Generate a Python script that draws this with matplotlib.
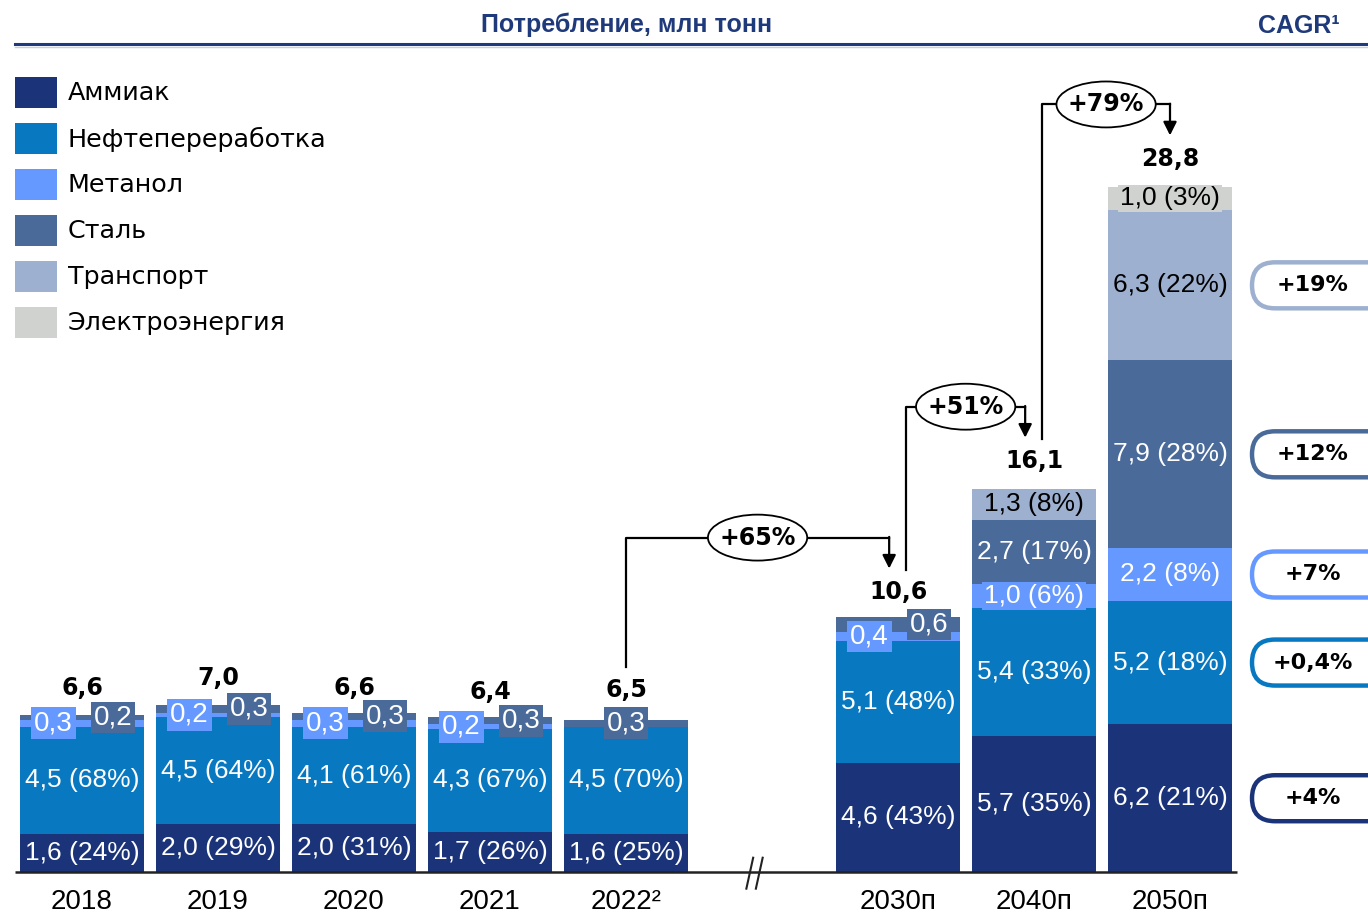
import matplotlib
matplotlib.use("Agg")
import matplotlib.pyplot as plt
from matplotlib.patches import Rectangle, Ellipse, FancyBboxPatch
from matplotlib.transforms import IdentityTransform

# ---- data ----
years = ["2018", "2019", "2020", "2021", "2022²", "2030п", "2040п", "2050п"]
x_pos = [0, 1, 2, 3, 4, 6, 7, 8]
totals = [6.6, 7.0, 6.6, 6.4, 6.5, 10.6, 16.1, 28.8]

categories = ["Аммиак", "Нефтепереработка", "Метанол", "Сталь", "Транспорт", "Электроэнергия"]
ammonia = [1.6, 2.0, 2.0, 1.7, 1.6, 4.6, 5.7, 6.2]
ammonia_pct = [24, 29, 31, 26, 25, 43, 35, 21]
refining = [4.5, 4.5, 4.1, 4.3, 4.5, 5.1, 5.4, 5.2]
refining_pct = [68, 64, 61, 67, 70, 48, 33, 18]
methanol = [0.3, 0.2, 0.3, 0.2, 0.0, 0.4, 1.0, 2.2]
methanol_pct = [None, None, None, None, None, None, 6, 8]
steel = [0.2, 0.3, 0.3, 0.3, 0.3, 0.6, 2.7, 7.9]
steel_pct = [None, None, None, None, None, None, 17, 28]
transport = [0, 0, 0, 0, 0, 0, 1.3, 6.3]
transport_pct = [None, None, None, None, None, None, 8, 22]
power = [0, 0, 0, 0, 0, 0, 0, 1.0]
power_pct = [None, None, None, None, None, None, None, 3]

cagr = ["+4%", "+0,4%", "+7%", "+12%", "+19%", None]

# growth between bars: (from index, to index, label)
growth = [(4, 5, "+65%"), (5, 6, "+51%"), (6, 7, "+79%")]

colors = ["#1b3479", "#0878c0", "#6699ff", "#4a6a9a", "#9db0cf", "#d0d2cf"]
text_colors = ["white", "white", "white", "white", "black", "black"]
navy = "#1f3a7a"

NARROW = ["Liberation Sans", "DejaVu Sans"]
plt.rcParams["font.family"] = ["DejaVu Sans"]


def fmt(v):
    return f"{v:.1f}".replace(".", ",")


W, H = 1368, 914
fig = plt.figure(figsize=(W / 100, H / 100), dpi=100)
ax = fig.add_axes([0, 0, 1, 1])
ax.set_xlim(-82 / 136, (W - 82) / 136)
ax.set_ylim(-(H - 872) / 23.8, 872 / 23.8)
ax.axis("off")

series = [ammonia, refining, methanol, steel, transport, power]
pcts = [ammonia_pct, refining_pct, methanol_pct, steel_pct, transport_pct, power_pct]
bar_w = 0.905

bottoms = [0.0] * len(years)
mids = {}
for ci, (vals, pc) in enumerate(zip(series, pcts)):
    ax.bar(x_pos, vals, bar_w, bottom=bottoms, color=colors[ci], edgecolor="none")
    for i, v in enumerate(vals):
        if v <= 0:
            continue
        mid = bottoms[i] + v / 2
        mids[(ci, i)] = mid
        if pc[i] is None:
            # small values: boxed labels side by side
            dx = 0
            if ci == 2:
                dx = -0.21
            elif ci == 3 and methanol[i] > 0:
                dx = 0.23
            ax.text(x_pos[i] + dx, mid, fmt(v), ha="center", va="center",
                    fontsize=20, color="white", family=NARROW,
                    bbox=dict(boxstyle="square,pad=0.1", fc=colors[ci], ec="none"))
        else:
            ax.text(x_pos[i], mid, f"{fmt(v)} ({pc[i]}%)", ha="center", va="center",
                    fontsize=19, color=text_colors[ci], family=NARROW,
                    bbox=dict(boxstyle="square,pad=0.06", fc=colors[ci], ec="none"))
    bottoms = [b + v for b, v in zip(bottoms, vals)]

# totals and years
for i, t in enumerate(totals):
    ax.text(x_pos[i], t + 1.15, fmt(t), ha="center", va="center",
            fontsize=17, fontweight="bold")
    ax.text(x_pos[i], -1.25, years[i], ha="center", va="center",
            fontsize=20, family=NARROW)

# baseline with break
ax.plot([-0.49, 8.49], [0, 0], color="#222222", lw=1.8, solid_capstyle="butt")
for dx in (-0.09, -0.02):
    ax.plot([5 + dx - 0.025, 5 + dx + 0.025], [-0.7, 0.6], color="#222222", lw=1.5)

# growth arrows
for a, b, lab in growth:
    x0 = x_pos[a] + (0.0 if a == 4 else 0.06)
    x1 = x_pos[b] - (0.0 if b == 7 else 0.065)
    y0 = totals[a] + 2.1
    y1 = totals[b] + 2.15
    lvl = totals[b] + 3.45
    ax.plot([x0, x0, x1], [y0, lvl, lvl], color="black", lw=1.6)
    ax.annotate("", xy=(x1, y1), xytext=(x1, lvl + 0.03),
                arrowprops=dict(arrowstyle="-|>", color="black", lw=1.6,
                                mutation_scale=20, shrinkA=0, shrinkB=0))
    xc = (x0 + x1) / 2
    ax.add_patch(Ellipse((xc, lvl), 0.73, 1.93, fc="white", ec="black", lw=1.3, zorder=3))
    ax.text(xc, lvl, lab, ha="center", va="center", fontsize=17,
            fontweight="bold", zorder=4)

# CAGR pills aligned with 2050 segments
for ci, c in enumerate(cagr):
    if c is None:
        continue
    yd = ax.transData.transform((0, mids[(ci, 7)]))[1]
    pill = FancyBboxPatch((1252, yd - 23), 140, 46,
                          boxstyle="round,pad=0,rounding_size=23",
                          transform=IdentityTransform(), fc="white",
                          ec=colors[ci], lw=3.2, zorder=3)
    ax.add_artist(pill)
    ax.text(1313 / W, yd / H, c, transform=ax.transAxes, ha="center", va="center",
            fontsize=16, fontweight="bold", zorder=4)

# legend
for k, name in enumerate(categories):
    yc = 93 + 46 * k
    ax.add_patch(Rectangle((15 / W, 1 - (yc + 15) / H), 42 / W, 31 / H,
                           transform=ax.transAxes, fc=colors[k], ec="none"))
    ax.text(68 / W, 1 - yc / H, name, transform=ax.transAxes, ha="left",
            va="center", fontsize=18.3)

# header
ax.text(627 / W, 1 - 25 / H, "Потребление, млн тонн", transform=ax.transAxes,
        ha="center", va="center", fontsize=18, fontweight="bold", color=navy,
        family=NARROW)
ax.text(1340 / W, 1 - 26 / H, "CAGR¹", transform=ax.transAxes, ha="right",
        va="center", fontsize=18, fontweight="bold", color=navy, family=NARROW)
ax.plot([15 / W, 1.0], [1 - 44 / H, 1 - 44 / H], transform=ax.transAxes,
        color=navy, lw=2.2)
ax.plot([15 / W, 1.0], [1 - 47 / H, 1 - 47 / H], transform=ax.transAxes,
        color="#c8cfe0", lw=1)

fig.savefig("out.png", dpi=100)
